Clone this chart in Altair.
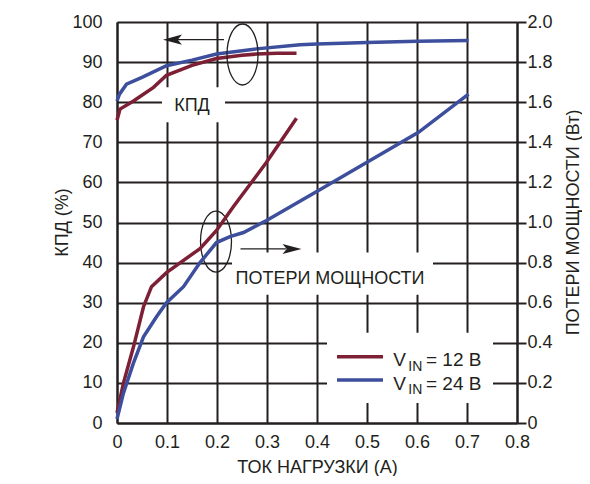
import altair as alt
import pandas as pd

# ---------------- data ----------------
# Efficiency, %  (x = load current, A)
eff12_x = [0, 0.006, 0.033, 0.073, 0.099, 0.15, 0.199, 0.25, 0.279, 0.32, 0.359]
eff12_y = [75.5, 78.3, 80.3, 83.7, 86.7, 89.2, 90.9, 91.7, 92.0, 92.2, 92.2]
eff24_x = [0, 0.005, 0.019, 0.05, 0.099, 0.15, 0.199, 0.279, 0.366, 0.4, 0.5, 0.6, 0.703]
eff24_y = [80.3, 82.0, 84.5, 86.2, 89.1, 90.5, 92.0, 93.3, 94.3, 94.5, 94.9, 95.2, 95.4]

# Power loss, W
loss12_x = [0, 0.013, 0.033, 0.053, 0.069, 0.099, 0.166, 0.199, 0.233, 0.299, 0.329, 0.359]
loss12_y = [0.05, 0.20, 0.38, 0.58, 0.68, 0.75, 0.87, 0.96, 1.08, 1.30, 1.41, 1.52]
loss24_x = [0, 0.013, 0.033, 0.053, 0.079, 0.099, 0.133, 0.166, 0.199, 0.226, 0.253, 0.299, 0.403, 0.5, 0.603, 0.703]
loss24_y = [0.02, 0.15, 0.30, 0.43, 0.53, 0.60, 0.68, 0.80, 0.90, 0.93, 0.95, 1.01, 1.16, 1.30, 1.45, 1.64]

series = ["12", "24"]
x_ticks = [0, 0.1, 0.2, 0.3, 0.4, 0.5, 0.6, 0.7, 0.8]
left_ticks = [0, 10, 20, 30, 40, 50, 60, 70, 80, 90, 100]
right_ticks = [0, 0.2, 0.4, 0.6, 0.8, 1.0, 1.2, 1.4, 1.6, 1.8, 2.0]

x_title = "ТОК НАГРУЗКИ (А)"
left_title = "КПД (%)"
right_title = "ПОТЕРИ МОЩНОСТИ (Вт)"
label_kpd = "КПД"
label_loss = "ПОТЕРИ МОЩНОСТИ"
legend_rest = ["= 12 В", "= 24 В"]

# annotation anchors in data units (x: A, y: %)
boxes = pd.DataFrame({
    "x": [0.09, 0.23, 0.42], "x2": [0.216, 0.632, 0.752],
    "y": [75.0, 32.0, 5.0], "y2": [83.75, 42.5, 22.5],
})
ellipses = pd.DataFrame({"x": [0.251, 0.198], "y": [91.9, 45.25]})
arrow_lines = pd.DataFrame({"x": [0.214, 0.247], "x2": [0.106, 0.338], "y": [95.6, 43.4]})
arrow_left = pd.DataFrame({"x": [0.111], "y": [95.6]})
arrow_right = pd.DataFrame({"x": [0.350], "y": [43.4]})
texts = pd.DataFrame({"x": [0.15, 0.426], "y": [79.0, 35.9], "t": [label_kpd, label_loss]})
leg_lines = pd.DataFrame({"x": [0.44, 0.44], "x2": [0.532, 0.532], "y": [16.5, 10.75], "s": series})
leg_v = pd.DataFrame({"x": [0.5526, 0.5526], "y": [14.1, 8.25], "t": ["V", "V"]})
leg_sub = pd.DataFrame({"x": [0.5826, 0.5826], "y": [13.0, 7.2], "t": ["IN", "IN"]})
leg_txt = pd.DataFrame({"x": [0.618, 0.618], "y": [14.1, 8.25], "t": legend_rest})

# ---------------- styling ----------------
RED = "#7d1f35"
BLUE = "#3d4f9c"
INK = "#231f20"
FONT = "Liberation Sans"
FS = 18
color_scale = alt.Scale(domain=series, range=[RED, BLUE])

xs = alt.Scale(domain=[0, 0.8], nice=False, zero=False)
ys_left = alt.Scale(domain=[0, 100], nice=False)
ys_right = alt.Scale(domain=[0, 2.0], nice=False)

eff_df = pd.DataFrame({
    "I": eff12_x + eff24_x,
    "v": eff12_y + eff24_y,
    "s": [series[0]] * len(eff12_x) + [series[1]] * len(eff24_x),
    "o": list(range(len(eff12_x))) + list(range(len(eff24_x))),
})
loss_df = pd.DataFrame({
    "I": loss12_x + loss24_x,
    "v": loss12_y + loss24_y,
    "s": [series[0]] * len(loss12_x) + [series[1]] * len(loss24_x),
    "o": list(range(len(loss12_x))) + list(range(len(loss24_x))),
})

x_axis = alt.Axis(
    values=x_ticks, format="~g", grid=True, gridColor=INK, gridWidth=2, gridOpacity=1,
    domain=True, domainColor=INK, domainWidth=2, ticks=False, tickSize=0,
    labelFont=FONT, labelFontSize=FS, labelColor=INK, labelPadding=10, labelFlush=False,
    title=x_title, titleFont=FONT, titleFontSize=FS, titleFontWeight="normal", titleColor=INK,
    titleX=200, titleY=44, titleAlign="center", titleBaseline="middle",
)
y_axis_left = alt.Axis(
    values=left_ticks, grid=True, gridColor=INK, gridWidth=2, gridOpacity=1,
    domain=True, domainColor=INK, domainWidth=2, ticks=False, tickSize=0,
    labelFont=FONT, labelFontSize=FS, labelColor=INK, labelPadding=15, labelFlush=False,
    title=left_title, titleFont=FONT, titleFontSize=FS, titleFontWeight="normal", titleColor=INK,
    titleAngle=270, titleX=-55, titleY=200, titleAlign="center", titleBaseline="middle",
)
y_axis_right = alt.Axis(
    orient="right", values=right_ticks, grid=False,
    labelExpr="datum.value == 0 ? '0' : format(datum.value, '.1f')",
    domain=True, domainColor=INK, domainWidth=2, ticks=True, tickSize=9, tickWidth=2, tickColor=INK,
    labelFont=FONT, labelFontSize=FS, labelColor=INK, labelPadding=1, labelFlush=False,
    title=right_title, titleFont=FONT, titleFontSize=FS, titleFontWeight="normal", titleColor=INK,
    titleAngle=270, titleX=56, titleY=200, titleAlign="center", titleBaseline="middle",
)

X = lambda f="x": alt.X(f"{f}:Q", scale=xs, axis=x_axis)
Y = lambda f="y": alt.Y(f"{f}:Q", scale=ys_left, axis=y_axis_left)

eff_lines = alt.Chart(eff_df).mark_line(strokeWidth=3.5, strokeCap="butt").encode(
    x=X("I"), y=Y("v"),
    color=alt.Color("s:N", scale=color_scale, legend=None),
    order="o:Q",
)

white_boxes = alt.Chart(boxes).mark_rect(color="white").encode(
    x=X(), x2="x2:Q", y=Y(), y2="y2:Q")

ellipse_path = "M0,-1 A0.508,1 0 1,1 0,1 A0.508,1 0 1,1 0,-1 Z"
ell = alt.Chart(ellipses).mark_point(
    shape=ellipse_path, size=3721, filled=False, strokeWidth=1.3, color=INK, opacity=1
).encode(x=X(), y=Y())

arr = alt.Chart(arrow_lines).mark_rule(strokeWidth=1.2, color=INK).encode(
    x=X(), x2="x2:Q", y=Y())
head_l = alt.Chart(arrow_left).mark_point(
    shape="M-1,0 L1,-0.53 L0.55,0 L1,0.53 Z", size=361, filled=True, color=INK, opacity=1
).encode(x=X(), y=Y())
head_r = alt.Chart(arrow_right).mark_point(
    shape="M1,0 L-1,-0.53 L-0.55,0 L-1,0.53 Z", size=361, filled=True, color=INK, opacity=1
).encode(x=X(), y=Y())

lbl = alt.Chart(texts).mark_text(font=FONT, fontSize=FS, color=INK, align="center", baseline="middle").encode(
    x=X(), y=Y(), text="t:N")

leg_l = alt.Chart(leg_lines).mark_rule(strokeWidth=3.5).encode(
    x=X(), x2="x2:Q", y=Y(), color=alt.Color("s:N", scale=color_scale, legend=None))
leg_a = alt.Chart(leg_v).mark_text(font=FONT, fontSize=19, color=INK, align="left", baseline="alphabetic").encode(
    x=X(), y=Y(), text="t:N")
leg_b = alt.Chart(leg_sub).mark_text(font=FONT, fontSize=14, color=INK, align="left", baseline="alphabetic").encode(
    x=X(), y=Y(), text="t:N")
leg_c = alt.Chart(leg_txt).mark_text(font=FONT, fontSize=19, color=INK, align="left", baseline="alphabetic").encode(
    x=X(), y=Y(), text="t:N")

left = alt.layer(eff_lines, white_boxes, ell, arr, head_l, head_r, lbl, leg_l, leg_a, leg_b, leg_c)

loss_lines = alt.Chart(loss_df).mark_line(strokeWidth=3.5, strokeCap="butt").encode(
    x=X("I"),
    y=alt.Y("v:Q", scale=ys_right, axis=y_axis_right),
    color=alt.Color("s:N", scale=color_scale, legend=None),
    order="o:Q",
)

chart = alt.layer(left, loss_lines).resolve_scale(y="independent").properties(
    width=400, height=401,
    autosize="none",
    padding={"left": 109, "top": 14, "right": 65, "bottom": 53},
    background="white",
).configure_view(stroke=None)

chart.save("out.html", embed_options={"renderer": "svg", "actions": False})
